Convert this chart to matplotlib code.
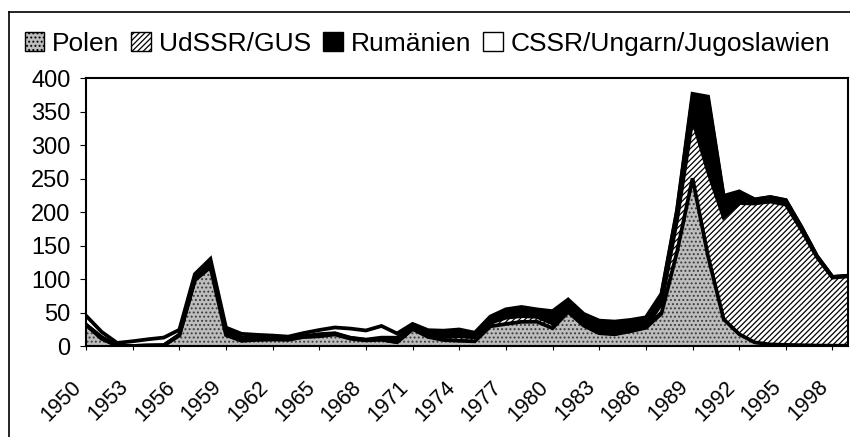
import numpy as np
import matplotlib.pyplot as plt
from matplotlib.patches import Patch
from matplotlib.lines import Line2D

plt.rcParams['font.family'] = ['Liberation Sans', 'DejaVu Sans']
plt.rcParams['hatch.linewidth'] = 0.9

# Aussiedler nach Herkunft, in Tausend
years = np.arange(1950, 2000)
polen = [31.8, 10.8, 0.2, 0.1, 0.7, 0.9, 15.7, 98.3, 117.6, 16.3,
         7.7, 9.3, 9.7, 9.5, 13.6, 14.6, 17.3, 10.9, 8.4, 9.5,
         5.6, 25.2, 13.5, 8.9, 7.8, 7.0, 29.4, 32.9, 36.1, 36.3,
         26.6, 50.9, 30.4, 19.1, 17.5, 22.1, 27.2, 48.4, 140.2, 250.3,
         133.9, 40.1, 17.7, 5.4, 2.4, 1.7, 1.2, 0.7, 0.5, 0.4]
udssr = [0.0, 1.7, 0.1, 0.0, 0.0, 0.2, 1.0, 0.9, 4.1, 5.6,
         3.3, 0.3, 0.9, 0.2, 0.2, 0.4, 1.2, 1.1, 0.6, 0.3,
         0.3, 1.1, 3.4, 4.5, 6.5, 6.0, 5.3, 9.3, 8.5, 7.2,
         7.0, 3.8, 2.1, 1.4, 0.9, 0.5, 0.8, 14.5, 47.6, 88.0,
         126.0, 152.0, 195.6, 207.3, 213.2, 209.4, 172.2, 131.9, 101.6, 103.6]
rumaenien = [0.0, 1.0, 0.0, 0.0, 0.0, 0.0, 0.2, 0.4, 1.4, 0.4,
             2.1, 3.3, 1.7, 1.3, 0.8, 2.7, 0.6, 0.4, 0.6, 2.7,
             6.5, 2.8, 4.4, 7.6, 8.5, 5.1, 3.8, 10.9, 12.1, 9.7,
             15.8, 12.0, 12.9, 15.5, 16.6, 14.9, 13.1, 13.0, 12.9, 33.0,
             108.0, 30.0, 16.1, 5.8, 6.6, 6.5, 4.3, 1.8, 1.0, 0.9]
andere = [13.5, 7.7, 4.3, 7.0, 9.4, 11.5, 7.3, 7.7, 6.9, 5.2,
          5.1, 3.8, 3.3, 3.0, 4.8, 6.2, 8.6, 13.6, 13.6, 17.4,
          6.3, 3.9, 2.3, 1.9, 1.9, 1.8, 5.5, 1.7, 1.6, 1.5,
          2.6, 2.7, 2.6, 1.9, 1.5, 1.4, 1.7, 2.1, 2.0, 5.1,
          4.3, 2.0, 1.4, 0.4, 0.2, 0.2, 0.1, 0.0, 0.0, 0.0]
labels = ['Polen', 'UdSSR/GUS', 'Rumänien', 'CSSR/Ungarn/Jugoslawien']

series = [polen, udssr, rumaenien, andere]
faces = ['#bdbdbd', 'white', 'black', 'white']
hatch_cols = ['#3c3c3c', 'black', 'black', 'black']
hatches = ['....', '//////', None, None]

fig = plt.figure(figsize=(8.5, 4.37), dpi=100)
ax = fig.add_axes([0.1012, 0.2082, 0.8965, 0.6133])

bottom = np.zeros(len(years))
tops = []
for vals, fc, hc, h in zip(series, faces, hatch_cols, hatches):
    top = bottom + np.array(vals)
    ax.fill_between(years, bottom, top, facecolor=fc, edgecolor=hc,
                    hatch=h, linewidth=0)
    tops.append(top)
    bottom = top
for top in tops:
    ax.plot(years, top, color='black', lw=2.7, solid_joinstyle='miter')

ax.set_xlim(1950, 1999)
ax.set_ylim(0, 400)
ax.set_yticks(range(0, 401, 50))
ax.set_xticks(years[::3])
ax.set_xticklabels([str(y) for y in years[::3]], rotation=45, ha='right')
ax.tick_params(axis='x', labelsize=15.5, length=3, pad=19)
ax.tick_params(axis='y', labelsize=17, length=4, pad=7)
for s in ax.spines.values():
    s.set_linewidth(1.5)

# Rahmen um das ganze Diagramm
fig.add_artist(Line2D([9 / 850, 9 / 850], [0, 1 - 12 / 437], color='black', lw=1.2))
fig.add_artist(Line2D([9 / 850, 1], [1 - 12 / 437, 1 - 12 / 437], color='black', lw=1.2))

handles = [Patch(facecolor=fc, edgecolor='black', hatch=h, lw=1)
           for fc, h in zip(faces, hatches)]
fig.legend(handles, labels, loc='center', bbox_to_anchor=(0.503, 0.90),
           ncol=4, frameon=False, fontsize=19, handlelength=0.75,
           handleheight=0.75, handletextpad=0.3, columnspacing=0.45,
           borderaxespad=0)

fig.savefig('out.png', dpi=100)
